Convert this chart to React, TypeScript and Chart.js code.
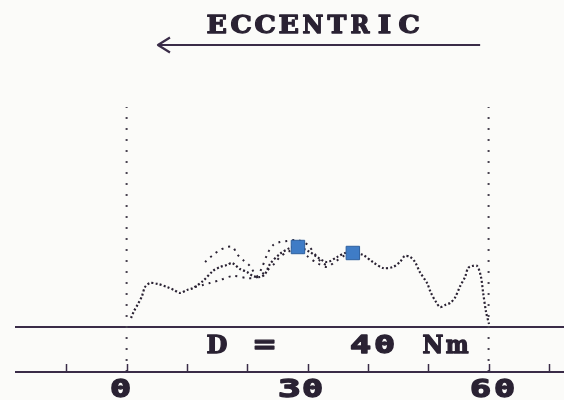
import React, { useEffect, useRef } from 'react';
import { Chart, registerables } from 'chart.js';

Chart.register(...registerables);

// ---- data ----
const xTicks = [-10, 0, 10, 20, 30, 40, 50, 60, 70];
const xTickLabels = ['', '0', '', '', '30', '', '', '60', ''];
const titleText = 'ECCENTRIC';
const readoutText = 'D =   40 Nm';
const limitAngles = [0, 60];
const limitTop = 110;
const arrowFrom = 58.6;
const arrowTo = 5.2;

const mainX = [0.73, 1.23, 1.89, 2.55, 3.05, 3.88, 5.2, 6.7, 7.86, 8.85, 10.0, 11.0, 12.66, 14.3, 15.5, 16.64, 17.47, 18.8, 19.96, 20.95, 22.1, 22.95, 23.77, 25.4, 27.1, 28.4, 30.4, 31.56, 33.2, 34.9, 36.2, 37.5, 39.2, 40.8, 42.5, 44.16, 45.3, 46.1, 47.0, 47.8, 48.6, 49.8, 50.45, 51.3, 51.95, 52.8, 53.6, 54.4, 55.3, 56.1, 56.6, 57.25, 58.1, 58.74, 59.08, 59.58, 60.07];
const mainY = [4.5, 8, 11.5, 15.5, 20, 22, 21.5, 20, 18.5, 17, 18.5, 19.5, 23, 28, 30, 31, 32, 29, 27.5, 25.5, 25, 26.5, 31.5, 36.5, 39.5, 40, 37.5, 35, 32.5, 35, 37, 37, 36, 32.5, 29.5, 30, 32.5, 35.5, 35, 32.5, 27.5, 22, 17, 12.5, 10, 11, 12, 14.5, 20.5, 25, 29.5, 30.5, 30.5, 25, 17.5, 7.5, 1.5];

const upperX = [13.0, 14.3, 15.5, 16.64, 17.6, 18.3, 19.3, 20.45, 21.6, 22.4, 23.4, 24.3, 25.4, 26.6, 28.2, 29.2, 30.05, 31.2, 32.4, 33.7];
const upperY = [32.5, 36, 38.5, 40, 40, 36.5, 33.5, 30.5, 25.5, 29.5, 37, 41, 42.5, 43, 43.5, 42.5, 41, 36.5, 32, 30.5];

const lowerX = [11.34, 12.66, 13.8, 15.5, 17.6, 19.96, 21.3, 22.95, 24.6, 25.4, 26.7, 28.2, 29.9, 31.56, 33.2, 34.5, 36.2];
const lowerY = [20, 21, 22, 23.5, 25.5, 24.5, 24.5, 27.5, 32, 35, 37.5, 39, 35.5, 32, 30, 32.5, 36];

const markerX = [28.4, 37.5];
const markerY = [40, 37];

// ---- style ----
const INK = '#2a2233';
const LINE = '#3a2c48';
const CELL = 24;
const GRID0 = 13;
const LETTER_FONT = 'bold 24px "DejaVu Serif", serif';
const DIGIT_FONT = 'bold 24px "DejaVu Sans Mono", monospace';

const pts = (xs: number[], ys: number[]) => xs.map((x, i) => ({ x, y: ys[i] }));

function snapCell(left: number) {
  return GRID0 + Math.round((left - GRID0) / CELL) * CELL;
}

function drawCells(ctx: CanvasRenderingContext2D, text: string, left: number, baseline: number) {
  for (let i = 0; i < text.length; i++) {
    const ch = text[i];
    if (ch === ' ') continue;
    const isDigit = /[0-9=]/.test(ch);
    ctx.font = isDigit ? DIGIT_FONT : LETTER_FONT;
    ctx.textAlign = 'left';
    const m = ctx.measureText(ch);
    const inkL = m.actualBoundingBoxLeft;
    const inkW = Math.max(1, m.actualBoundingBoxLeft + m.actualBoundingBoxRight);
    const target = ch === 'I' ? 12 : 19;
    const sx = Math.min(2.2, Math.max(0.9, target / inkW));
    const cx = left + i * CELL + CELL / 2;
    ctx.save();
    ctx.translate(cx - (inkW * sx) / 2, baseline);
    ctx.scale(sx, 1);
    ctx.fillText(ch, inkL, 0);
    ctx.strokeText(ch, inkL, 0);
    ctx.restore();
  }
}

const decorPlugin = {
  id: 'decor',
  beforeDraw(chart: any) {
    const ctx = chart.ctx as CanvasRenderingContext2D;
    ctx.save();
    ctx.fillStyle = '#fbfbf9';
    ctx.fillRect(0, 0, chart.width, chart.height);
    ctx.restore();
  },
  afterDraw(chart: any) {
    const ctx = chart.ctx as CanvasRenderingContext2D;
    const xs = chart.scales.x;
    const area = chart.chartArea;
    ctx.save();
    // bottom axis line
    ctx.strokeStyle = LINE;
    ctx.lineWidth = 2;
    ctx.beginPath();
    ctx.moveTo(area.left, area.bottom);
    ctx.lineTo(area.right, area.bottom);
    ctx.stroke();
    // inward tick marks
    xTicks.forEach((t) => {
      const px = Math.round(xs.getPixelForValue(t)) + 0.5;
      ctx.beginPath();
      ctx.lineWidth = 1.5;
      ctx.moveTo(px, area.bottom);
      ctx.lineTo(px, area.bottom - 8);
      ctx.stroke();
    });
    // text
    ctx.fillStyle = INK;
    ctx.strokeStyle = INK;
    ctx.lineWidth = 1.3;
    ctx.lineJoin = 'round';
    ctx.textBaseline = 'alphabetic';
    xTicks.forEach((t, i) => {
      const lab = xTickLabels[i];
      if (!lab) return;
      const px = xs.getPixelForValue(t);
      const left = snapCell(px - (lab.length * CELL) / 2);
      drawCells(ctx, lab, left, 397);
    });
    const mid = xs.getPixelForValue(30);
    const tLeft = snapCell(mid - (titleText.length * CELL) / 2);
    drawCells(ctx, titleText, tLeft, 33);
    drawCells(ctx, readoutText, tLeft, 353);
    // arrow
    const a0 = xs.getPixelForValue(arrowFrom);
    const a1 = xs.getPixelForValue(arrowTo);
    ctx.strokeStyle = LINE;
    ctx.lineWidth = 2;
    ctx.beginPath();
    ctx.moveTo(a0, 45);
    ctx.lineTo(a1, 45);
    ctx.stroke();
    ctx.lineWidth = 2.2;
    ctx.beginPath();
    ctx.moveTo(a1 + 12, 37.5);
    ctx.lineTo(a1, 45);
    ctx.lineTo(a1 + 12, 52.5);
    ctx.stroke();
    ctx.restore();
  },
};

export default function App() {
  const ref = useRef<HTMLCanvasElement | null>(null);
  useEffect(() => {
    if (!ref.current) return;
    const chart = new Chart(ref.current, {
      type: 'line',
      data: {
        datasets: [
          {
            label: 'markers',
            data: pts(markerX, markerY),
            showLine: false,
            pointStyle: 'rect',
            pointRadius: 9.5,
            pointBackgroundColor: '#3f7cc6',
            pointBorderColor: '#2d5f9e',
            pointBorderWidth: 1,
          } as any,
          {
            label: 'main',
            data: pts(mainX, mainY),
            borderColor: INK,
            borderWidth: 2.2,
            borderDash: [2, 2.2],
            pointRadius: 0,
            tension: 0.3,
          },
          {
            label: 'upper',
            data: pts(upperX, upperY),
            borderColor: INK,
            borderWidth: 2,
            borderDash: [2, 5],
            pointRadius: 0,
            tension: 0.3,
          },
          {
            label: 'lower',
            data: pts(lowerX, lowerY),
            borderColor: INK,
            borderWidth: 2,
            borderDash: [2, 5],
            pointRadius: 0,
            tension: 0.3,
          },
          ...limitAngles.map((a) => ({
            label: 'limit' + a,
            data: [{ x: a, y: -22.5 }, { x: a, y: limitTop }],
            borderColor: '#4a4452',
            borderWidth: 2,
            borderDash: [2, 9],
            borderCapStyle: 'butt' as const,
            pointRadius: 0,
          })),
          {
            label: 'zero',
            data: [{ x: -18.5, y: 0 }, { x: 72.5, y: 0 }],
            borderColor: LINE,
            borderWidth: 2,
            pointRadius: 0,
          },
        ],
      },
      options: {
        animation: false,
        responsive: false,
        devicePixelRatio: 1,
        layout: { autoPadding: false, padding: { left: 15, right: 0, top: 57, bottom: 28 } },
        plugins: { legend: { display: false }, tooltip: { enabled: false } },
        scales: {
          x: { type: 'linear', min: -18.5, max: 72.5, display: false },
          y: { type: 'linear', min: -22.5, max: 135, display: false },
        },
      },
      plugins: [decorPlugin],
    });
    return () => chart.destroy();
  }, []);
  return (
    <canvas
      ref={ref}
      width={564}
      height={400}
      style={{ position: 'fixed', left: 0, top: 0, width: 564, height: 400 }}
    />
  );
}
